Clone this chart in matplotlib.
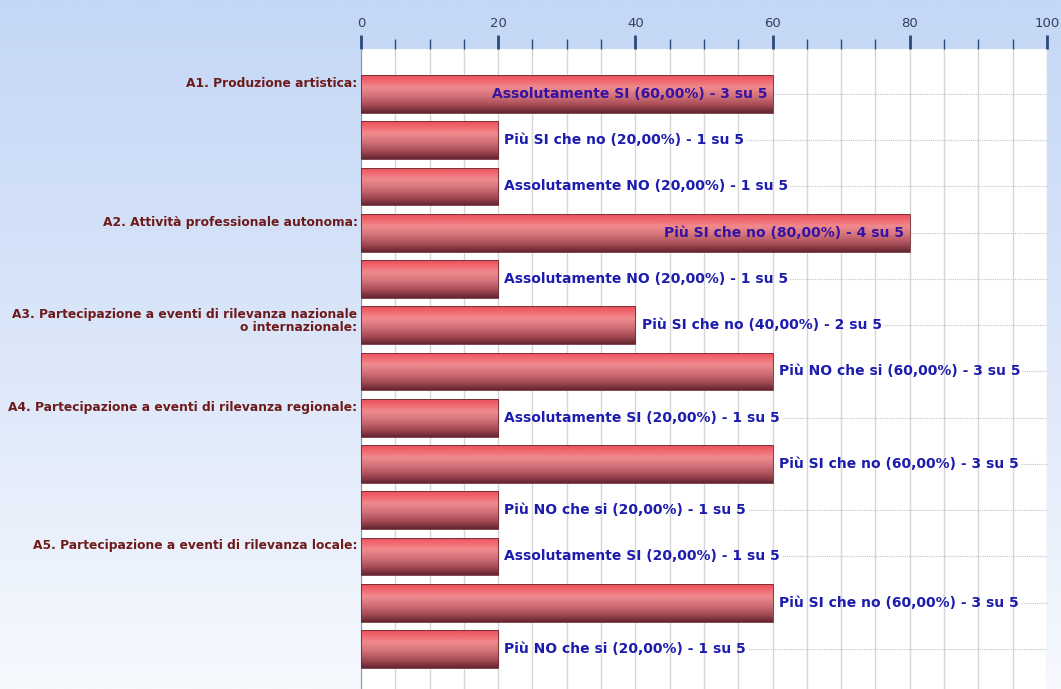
import matplotlib
matplotlib.use("Agg")
import matplotlib.pyplot as plt
from matplotlib.colors import LinearSegmentedColormap
import numpy as np

# domande (una etichetta per gruppo) e numero di barre per gruppo
questions = ["A1. Produzione artistica:",
             "A2. Attività professionale autonoma:",
             "A3. Partecipazione a eventi di rilevanza nazionale\no internazionale:",
             "A4. Partecipazione a eventi di rilevanza regionale:",
             "A5. Partecipazione a eventi di rilevanza locale:"]
group_sizes = [3, 2, 2, 3, 3]

answers = ["Assolutamente SI", "Più SI che no", "Assolutamente NO",
           "Più SI che no", "Assolutamente NO",
           "Più SI che no", "Più NO che si",
           "Assolutamente SI", "Più SI che no", "Più NO che si",
           "Assolutamente SI", "Più SI che no", "Più NO che si"]
counts = [3, 1, 1, 4, 1, 2, 3, 1, 3, 1, 1, 3, 1]
total = 5
inside_labels = [0, 3]  # barre con testo dentro

pct = [c / total * 100 for c in counts]
ypos = np.arange(len(counts))

fig = plt.figure(figsize=(10.61, 6.89), dpi=100)

# sfondo sfumato azzurro
bg = fig.add_axes([0, 0, 1, 1], zorder=-10)
bg_cmap = LinearSegmentedColormap.from_list("bg", ["#c3d7f6", "#dbe6f9", "#f6f9fe"])
bg.imshow(np.linspace(0, 1, 256).reshape(-1, 1), cmap=bg_cmap, aspect="auto",
          extent=[0, 1, 0, 1])
bg.axis("off")

ax = fig.add_axes([0.3402, 0.0, 0.6466, 0.9289])
ax.set_facecolor("white")

bar_h = 0.82
bars = ax.barh(ypos, pct, height=bar_h, color="none", edgecolor="#6e2a32",
               linewidth=0.6, zorder=3)

bar_cmap = LinearSegmentedColormap.from_list(
    "bar", [(0.0, "#e8505a"), (0.1, "#f06068"), (0.32, "#f08a8e"),
            (0.55, "#d2727a"), (0.8, "#a44a55"), (1.0, "#642630")])
grad = np.linspace(0, 1, 100).reshape(-1, 1)
for b, yc, w in zip(bars, ypos, pct):
    im = ax.imshow(grad, cmap=bar_cmap, aspect="auto", zorder=2.9,
                   extent=[0, w, yc + bar_h / 2, yc - bar_h / 2])
    im.set_clip_path(b)

ax.set_xlim(0, 100)
ax.set_ylim(12.865, -0.973)

# griglia verticale ogni 5
ax.set_xticks(np.arange(0, 101, 20))
ax.set_xticks(np.arange(0, 101, 5), minor=True)
ax.grid(which="both", axis="x", color="#d6d6d6", linewidth=1, zorder=0)
ax.set_axisbelow(True)
ax.set_yticks([])

ax.xaxis.tick_top()
ax.tick_params(axis="x", which="major", direction="out", length=10, width=2,
               color="#2a4a7a", labelsize=9.5, labelcolor="#34405a", pad=4)
ax.tick_params(axis="x", which="minor", direction="out", length=7, width=1,
               color="#2a4a7a")
for s in ["top", "right", "bottom"]:
    ax.spines[s].set_visible(False)
ax.spines["left"].set_color("#8898b8")

# testi delle barre
texts = []
for i, (a, c, p) in enumerate(zip(answers, counts, pct)):
    s = f"{a} ({p:.2f}%) - {c} su {total}".replace(".", ",")
    if i in inside_labels:
        t = ax.text(p - 0.8, i, s, ha="right", va="center", fontsize=10,
                    fontweight="bold", color="#3412a4", zorder=5)
    else:
        t = ax.text(p + 0.9, i, s, ha="left", va="center", fontsize=10,
                    fontweight="bold", color="#1c1cae", zorder=5)
    texts.append(t)

# etichette delle domande
start = 0
for q, n in zip(questions, group_sizes):
    ax.text(-0.005, start - 0.37, q, transform=ax.get_yaxis_transform(),
            ha="right", va="top", fontsize=8.8, fontweight="bold",
            color="#6e1a1a", linespacing=1.0, multialignment="right")
    start += n

# linee tratteggiate dopo il testo
fig.canvas.draw()
inv = ax.transData.inverted()
for i, (t, p) in enumerate(zip(texts, pct)):
    if i in inside_labels:
        x0 = p
    else:
        bb = t.get_window_extent()
        x0 = inv.transform((bb.x1 + 2, 0))[0]
    ax.plot([x0, 100], [i, i], linestyle=(0, (1, 1)), color="#c4c4c4",
            linewidth=0.8, zorder=1)

fig.savefig("out.png", dpi=100)
